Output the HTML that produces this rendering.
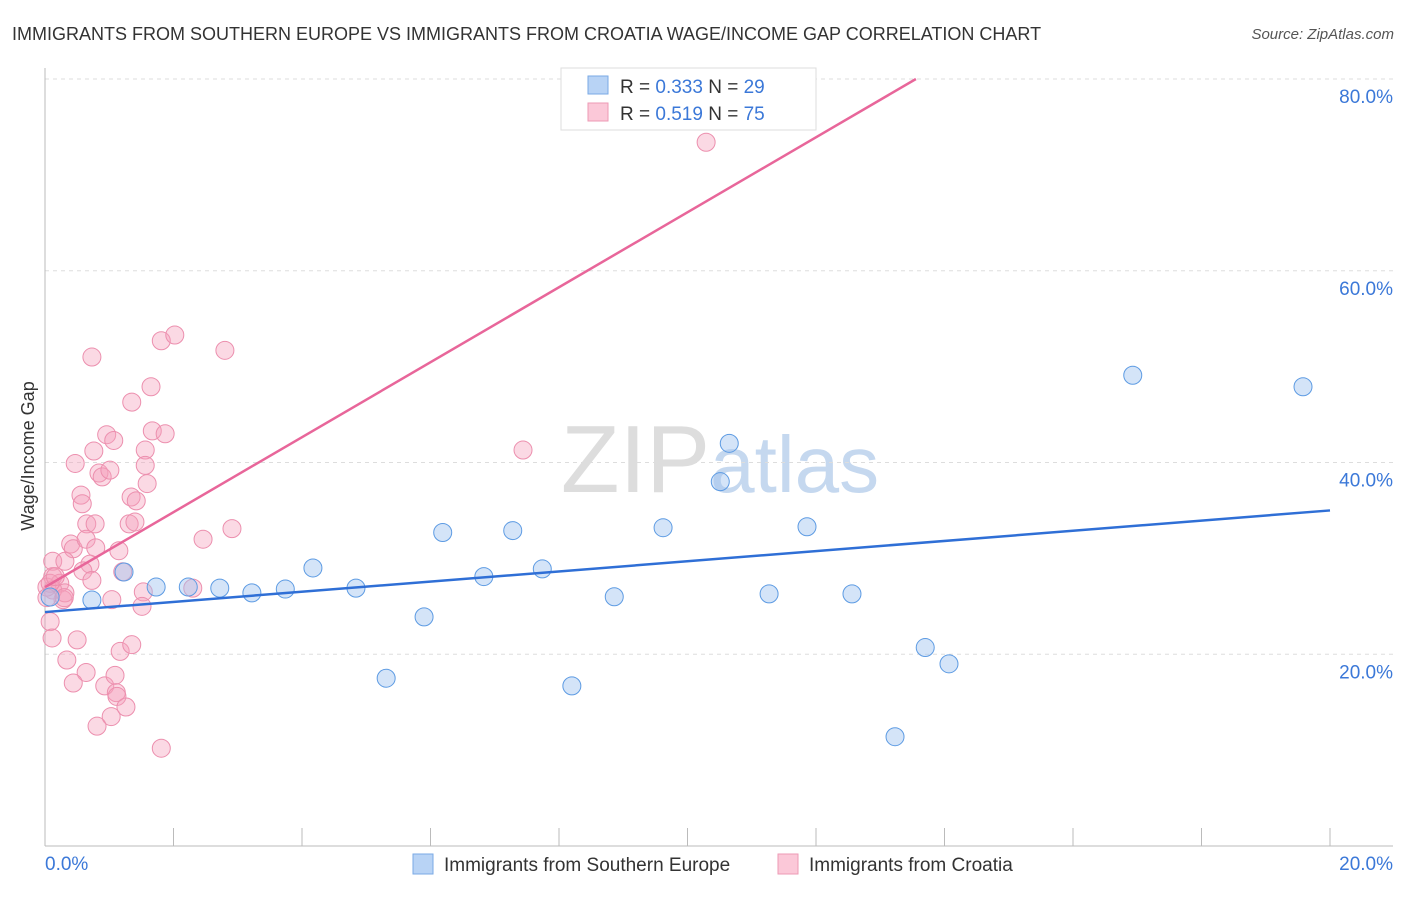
<!DOCTYPE html>
<html><head><meta charset="utf-8"><style>
body{margin:0;background:#fff;font-family:"Liberation Sans",sans-serif;}
svg text{font-family:"Liberation Sans",sans-serif;}
</style></head><body>
<svg width="1406" height="892" xmlns="http://www.w3.org/2000/svg">
<text x="12" y="40" font-size="18" fill="#333">IMMIGRANTS FROM SOUTHERN EUROPE VS IMMIGRANTS FROM CROATIA WAGE/INCOME GAP CORRELATION CHART</text>
<text x="1394" y="39" font-size="15" fill="#555" text-anchor="end" font-style="italic">Source: ZipAtlas.com</text>
<text x="720" y="492" font-size="96" fill="#ddd" text-anchor="middle" font-family="Liberation Serif">ZIP<tspan fill="#c5d8ef" font-family="Liberation Sans" font-size="80">atlas</tspan></text>
<g id="grid"></g><g id="axes"></g><g id="marks"></g>
<text transform="translate(34,456) rotate(-90)" font-size="18" fill="#333" text-anchor="middle">Wage/Income Gap</text>
<g>
<rect x="561" y="68" width="255" height="62" fill="#fff" stroke="#ddd"/>
<rect x="588" y="76" width="20" height="18" fill="#b8d3f5" stroke="#7aaae5"/>
<rect x="588" y="103" width="20" height="18" fill="#fbc8d8" stroke="#ee9ab5"/>
<text x="620" y="93" font-size="19" fill="#333">R = <tspan fill="#3b78d8">0.333</tspan>   N = <tspan fill="#3b78d8">29</tspan></text>
<text x="620" y="120" font-size="19" fill="#333">R =  <tspan fill="#3b78d8">0.519</tspan>   N = <tspan fill="#3b78d8">75</tspan></text>
</g>
<g>
<rect x="413" y="854" width="20" height="20" fill="#b8d3f5" stroke="#7aaae5"/>
<text x="444" y="871" font-size="19" fill="#333">Immigrants from Southern Europe</text>
<rect x="778" y="854" width="20" height="20" fill="#fbc8d8" stroke="#ee9ab5"/>
<text x="809" y="871" font-size="19" fill="#333">Immigrants from Croatia</text>
</g>
</svg>
<script>
const yTicks=[20,40,60,80];
const xTickLabels=["0.0%","20.0%"];
const blueX=[0.08,0.73,1.23,1.73,2.23,2.72,3.22,3.74,4.17,4.84,5.31,5.90,6.19,6.83,7.28,7.74,8.20,8.86,9.62,10.51,10.65,11.27,11.86,12.56,13.23,13.70,14.07,16.93,19.58];
const blueY=[25.97,25.66,28.58,27.01,27.01,26.9,26.4,26.8,29.0,26.9,17.5,23.9,32.7,28.1,32.9,28.9,16.7,26.0,33.2,38.0,42.0,26.3,33.3,26.3,11.4,20.7,19.0,49.1,47.9];
const pinkX=[0.73,1.81,2.02,2.80,1.65,1.35,0.96,1.07,1.67,1.87,0.76,0.47,1.56,1.56,0.84,0.89,1.01,1.59,0.56,0.58,1.34,1.42,0.65,0.78,1.31,1.40,0.40,0.44,0.64,0.79,1.15,0.12,0.31,0.70,0.59,0.73,0.12,0.23,1.21,1.53,2.30,2.46,2.91,1.04,1.51,0.28,0.12,0.08,0.11,0.50,1.17,1.35,0.34,0.64,0.44,0.93,1.09,1.11,1.12,1.26,1.03,0.81,1.81,0.03,0.08,0.16,0.31,0.30,0.03,10.29,7.44];
const pinkY=[51.0,52.7,53.3,51.7,47.9,46.3,42.9,42.3,43.3,43.0,41.2,39.9,41.3,39.7,38.9,38.5,39.2,37.8,36.6,35.7,36.4,36.0,33.6,33.6,33.6,33.8,31.5,31.0,32.0,31.1,30.8,29.7,29.7,29.4,28.7,27.7,28.1,27.4,28.6,26.5,26.9,32.0,33.1,25.7,25.0,25.7,26.7,23.4,21.7,21.5,20.3,21.0,19.4,18.1,17.0,16.7,17.8,16.0,15.6,14.5,13.5,12.5,10.2,27.0,27.4,28.1,26.4,25.9,25.9,73.4,41.3];
const blueLine=[24.4,35.0];
const pinkLine=[27.0,3.91];
const NS="http://www.w3.org/2000/svg";
const sx=v=>45+v/20*1285;
const sy=v=>846-v/80*767;
function mk(tag,attrs,parent){const e=document.createElementNS(NS,tag);for(const k in attrs)e.setAttribute(k,attrs[k]);document.getElementById(parent).appendChild(e);return e;}
yTicks.forEach(t=>{
 const l=mk('line',{x1:45,x2:1393,y1:sy(t),y2:sy(t),stroke:'#ddd','stroke-dasharray':'4,4'},'grid');
 
 
 const tx=mk('text',{x:1393,y:sy(t)+24,'font-size':19,fill:'#3b78d8','text-anchor':'end'},'grid');
 tx.textContent=t.toFixed(1)+'%';
 
 
});
const ax=mk('line',{x1:45,x2:1393,y1:846,y2:846,stroke:'#bbb'},'axes');


const ay=mk('line',{x1:45,x2:45,y1:68,y2:846,stroke:'#bbb'},'axes');


for(let i=0;i<=10;i++){const t=mk('line',{x1:sx(i*2),x2:sx(i*2),y1:828,y2:846,stroke:'#bbb'},'axes');
 
 }
[[0,'start',45],[20,'end',1393]].forEach((d,i)=>{const t=mk('text',{x:d[2],y:870,'font-size':19,fill:'#3b78d8','text-anchor':d[1]},'axes');t.textContent=xTickLabels[i];
 
 });
pinkX.forEach((x,i)=>{const c=mk('circle',{cx:sx(x),cy:sy(pinkY[i]),r:9,fill:'rgba(245,160,188,0.4)',stroke:'#ec8fae','stroke-width':1},'marks');
 
 });
blueX.forEach((x,i)=>{const c=mk('circle',{cx:sx(x),cy:sy(blueY[i]),r:9,fill:'rgba(160,195,240,0.45)',stroke:'#5d9be3','stroke-width':1},'marks');
 
 });
const bl=mk('line',{x1:sx(0),y1:sy(blueLine[0]),x2:sx(20),y2:sy(blueLine[1]),stroke:'#2f6fd6','stroke-width':2.5},'marks');


const xEnd=(80-pinkLine[0])/pinkLine[1];
const pl=mk('line',{x1:sx(0),y1:sy(pinkLine[0]),x2:sx(xEnd),y2:sy(80),stroke:'#e8669a','stroke-width':2.5},'marks');


</script>
</body></html>
